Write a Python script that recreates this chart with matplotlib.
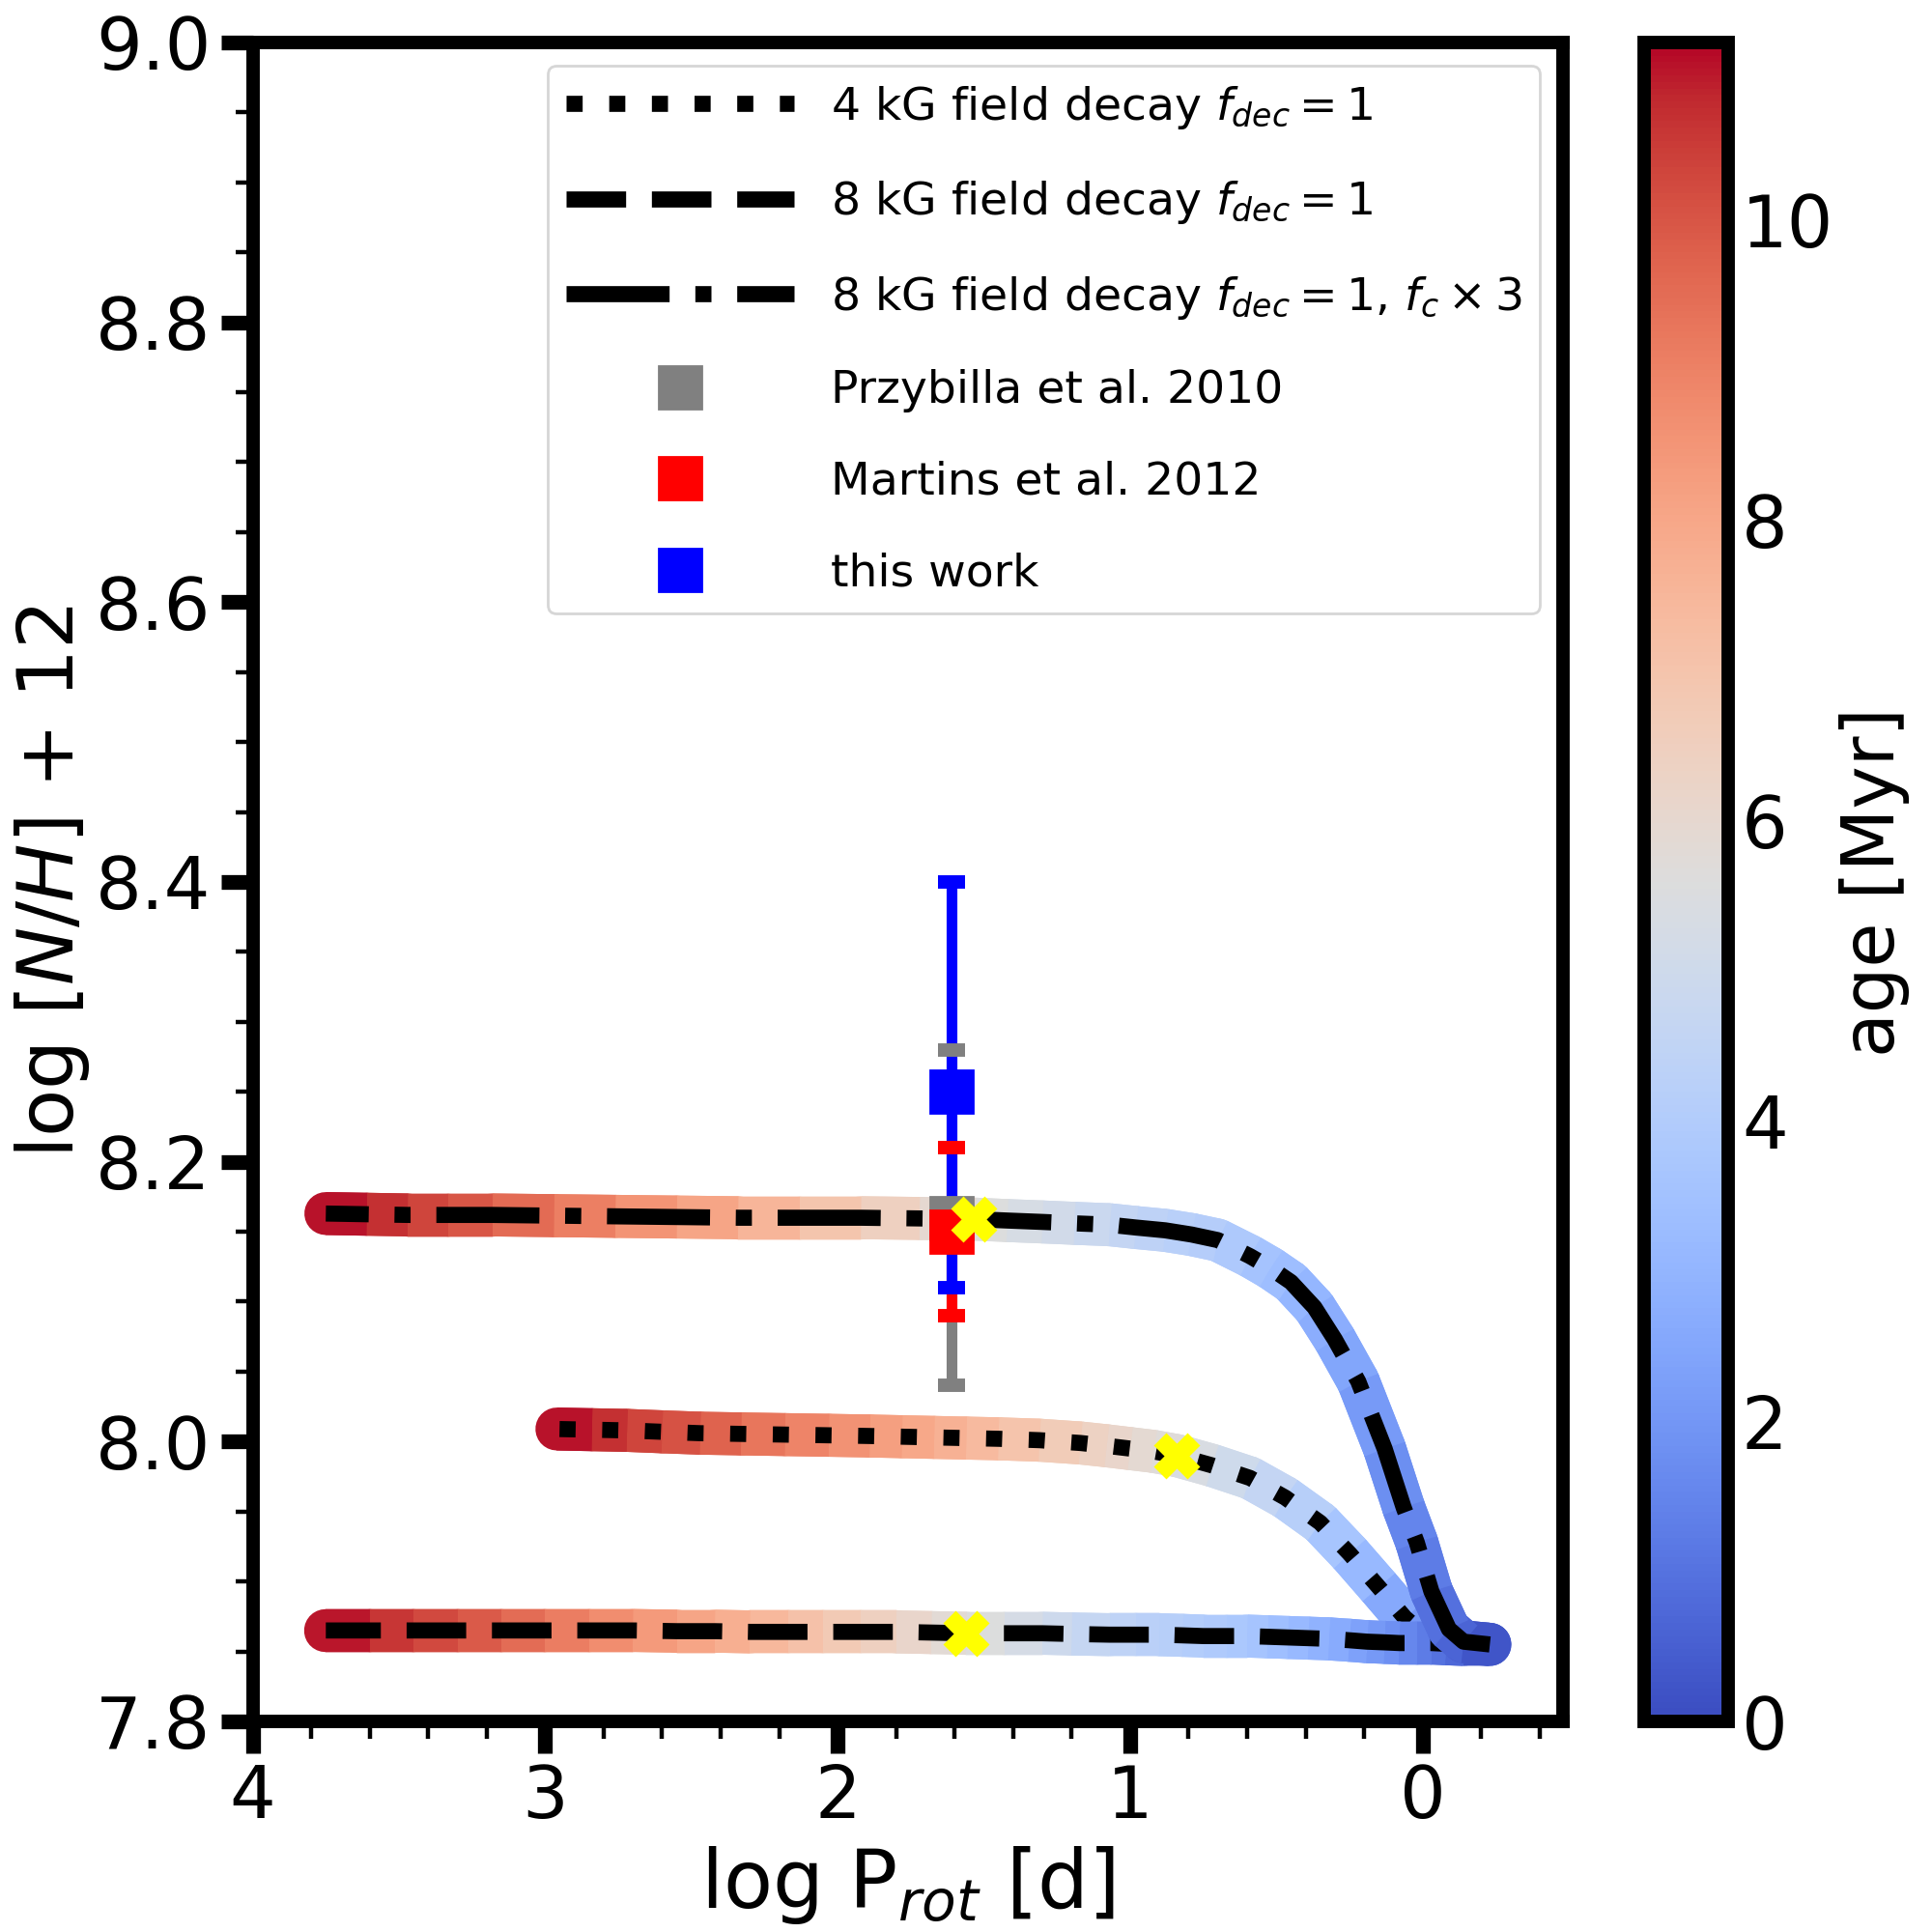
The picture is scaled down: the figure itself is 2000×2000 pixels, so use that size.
import numpy as np
import matplotlib
matplotlib.use("Agg")
import matplotlib.pyplot as plt
from matplotlib.collections import LineCollection
from matplotlib.colors import Normalize
from matplotlib.cm import ScalarMappable
from matplotlib.ticker import MultipleLocator

# --- model tracks: log P_rot, log N/H + 12, age [Myr] ---
# 4 kG field decay, f_dec = 1
logp_4kg = [-0.23, -0.14, -0.06, 0.01, 0.06, 0.15, 0.25, 0.35, 0.47, 0.59,
            0.72, 0.84, 0.92, 1.0, 1.08, 1.17, 1.31, 1.45, 1.56, 1.67,
            1.78, 1.89, 2.03, 2.18, 2.33, 2.47, 2.6, 2.72, 2.84, 2.96]
nh_4kg = [7.855, 7.856, 7.859, 7.865, 7.874, 7.896, 7.920, 7.942, 7.960, 7.974,
          7.983, 7.990, 7.993, 7.995, 7.997, 7.999, 8.001, 8.002, 8.0025, 8.003,
          8.0035, 8.004, 8.0045, 8.005, 8.0055, 8.006, 8.007, 8.008, 8.0085, 8.009]
age_4kg = [0.0, 0.6, 1.2, 1.8, 2.3, 2.9, 3.4, 3.9, 4.4, 4.8,
           5.2, 5.6, 5.8, 6.0, 6.25, 6.5, 6.85, 7.2, 7.5, 7.8,
           8.1, 8.4, 8.75, 9.1, 9.5, 9.9, 10.2, 10.5, 10.85, 11.18]

# 8 kG field decay, f_dec = 1
logp_8kg = [-0.23, -0.14, -0.08, -0.03, 0.02, 0.08, 0.13, 0.19, 0.25, 0.32,
            0.39, 0.46, 0.53, 0.6, 0.67, 0.75, 0.82, 0.9, 0.98, 1.07,
            1.2, 1.3, 1.43, 1.56, 1.68, 1.8, 1.92, 2.05, 2.17, 2.3,
            2.42, 2.55, 2.7, 2.85, 3.0, 3.15, 3.3, 3.45, 3.6, 3.75]
nh_8kg = [7.855, 7.855, 7.8555, 7.856, 7.856, 7.856, 7.8565, 7.857, 7.858, 7.859,
          7.8595, 7.860, 7.8605, 7.861, 7.861, 7.861, 7.8615, 7.862, 7.862, 7.862,
          7.8625, 7.863, 7.863, 7.863, 7.8635, 7.864, 7.864, 7.864, 7.864, 7.864,
          7.8645, 7.8645, 7.865, 7.865, 7.865, 7.865, 7.865, 7.865, 7.865, 7.865]
age_8kg = [0.0, 0.6, 0.85, 1.1, 1.4, 1.7, 1.95, 2.2, 2.5, 2.8,
           3.05, 3.3, 3.5, 3.7, 3.85, 4.0, 4.1, 4.2, 4.35, 4.5,
           4.8, 5.1, 5.4, 5.7, 6.0, 6.3, 6.6, 6.9, 7.25, 7.6,
           7.9, 8.2, 8.55, 8.9, 9.3, 9.7, 10.05, 10.4, 10.8, 11.18]

# 8 kG field decay, f_dec = 1, f_c x 3
logp_8kg_fc = [-0.23, -0.14, -0.09, -0.03, 0.02, 0.065, 0.13, 0.22, 0.30, 0.37,
               0.45, 0.52, 0.59, 0.70, 0.79, 0.88, 0.98, 1.07, 1.19, 1.30,
               1.42, 1.53, 1.72, 1.92, 2.13, 2.34, 2.55, 2.76, 2.97, 3.18,
               3.33, 3.47, 3.61, 3.75]
nh_8kg_fc = [7.855, 7.857, 7.866, 7.893, 7.928, 7.953, 7.995, 8.043, 8.073, 8.096,
             8.114, 8.124, 8.1325, 8.144, 8.148, 8.151, 8.153, 8.155, 8.156, 8.157,
             8.158, 8.159, 8.1595, 8.160, 8.160, 8.160, 8.1605, 8.161, 8.1615, 8.162,
             8.162, 8.162, 8.1625, 8.163]
age_8kg_fc = [0.0, 0.5, 0.8, 1.1, 1.4, 1.6, 1.9, 2.3, 2.6, 2.9,
              3.2, 3.45, 3.7, 4.0, 4.15, 4.3, 4.5, 4.7, 4.95, 5.2,
              5.45, 5.7, 6.2, 6.7, 7.25, 7.8, 8.3, 8.8, 9.3, 9.8,
              10.15, 10.5, 10.85, 11.18]

# current position on each track (dotted, dashed, dash-dot)
cross_logp = [0.841, 1.562, 1.534]
cross_nh = [7.990, 7.863, 8.159]

# observations
obs_labels = ["Przybilla et al. 2010", "Martins et al. 2012", "this work"]
obs_colors = ["grey", "red", "blue"]
obs_logp = [1.61, 1.61, 1.61]
obs_nh = [8.16, 8.15, 8.25]
obs_err_lo = [0.12, 0.06, 0.14]
obs_err_hi = [0.12, 0.06, 0.15]

age_max = 11.18
cbar_ticks = [0, 2, 4, 6, 8, 10]

cmap = plt.get_cmap("coolwarm")
norm = Normalize(vmin=0, vmax=age_max)

fig = plt.figure(figsize=(10, 10), dpi=200)
ax = fig.add_axes([0.1308, 0.109, 0.809 - 0.1308, 0.978 - 0.109])
cax = fig.add_axes([0.851, 0.109, 0.0435, 0.978 - 0.109])


def draw_track(logp, nh, age, ls, label):
    pts = np.column_stack([logp, nh])
    segs = np.stack([pts[:-1], pts[1:]], axis=1)
    age = np.asarray(age)
    cols = cmap(norm(0.5 * (age[:-1] + age[1:])))
    # round-capped layer fills the bends and gives the round ends,
    # butt-capped layer on top keeps the colour steps clean
    ax.add_collection(LineCollection(segs, colors=cols, linewidths=16,
                                     capstyle="round", zorder=2))
    ax.add_collection(LineCollection(segs, colors=cols, linewidths=16,
                                     capstyle="butt", zorder=2))
    ax.plot(logp, nh, ls=ls, color="k", lw=6, label=label, zorder=2)


draw_track(logp_4kg, nh_4kg, age_4kg, ":", r"4 kG field decay $f_{dec} = 1$")
draw_track(logp_8kg, nh_8kg, age_8kg, "--", r"8 kG field decay $f_{dec} = 1$")
draw_track(logp_8kg_fc, nh_8kg_fc, age_8kg_fc, "-.",
           r"8 kG field decay $f_{dec} = 1$, $f_c \times 3$")

for i in range(len(obs_labels)):
    eb = ax.errorbar(obs_logp[i], obs_nh[i],
                     yerr=[[obs_err_lo[i]], [obs_err_hi[i]]],
                     fmt="none", ecolor=obs_colors[i], elinewidth=4,
                     capsize=5, capthick=5, zorder=3)
    for cap in eb[1]:
        cap.set_zorder(3.5)
for i in range(len(obs_labels)):
    ax.plot(obs_logp[i], obs_nh[i], "s", color=obs_colors[i], ms=16,
            ls="none", label=obs_labels[i], zorder=4)

ax.plot(cross_logp, cross_nh, "X", color="yellow", ms=16, ls="none", zorder=5)

ax.set_xlim(4, -0.48)
ax.set_ylim(7.8, 9.0)
ax.xaxis.set_major_locator(MultipleLocator(1))
ax.xaxis.set_minor_locator(MultipleLocator(0.2))
ax.yaxis.set_major_locator(MultipleLocator(0.2))
ax.yaxis.set_minor_locator(MultipleLocator(0.05))
ax.tick_params(which="major", length=12, width=5.5, labelsize=27)
ax.tick_params(which="minor", length=6.5, width=1.6)
for sp in ax.spines.values():
    sp.set_linewidth(5)

ax.set_xlabel(r"log P$_{rot}$ [d]", fontsize=30)
ax.set_ylabel(r"log $[N/H]$ + 12", fontsize=29, labelpad=1.5)

ax.legend(loc="upper right", fontsize=17, handlelength=5, handletextpad=0.8,
          labelspacing=1.05, numpoints=1)

cb = fig.colorbar(ScalarMappable(norm=norm, cmap=cmap), cax=cax)
cb.set_ticks(cbar_ticks)
cb.ax.tick_params(length=0, pad=5, labelsize=27)
cb.outline.set_linewidth(5)
cb.set_label("age [Myr]", fontsize=27, labelpad=2)

fig.savefig("out.png", dpi=200)
